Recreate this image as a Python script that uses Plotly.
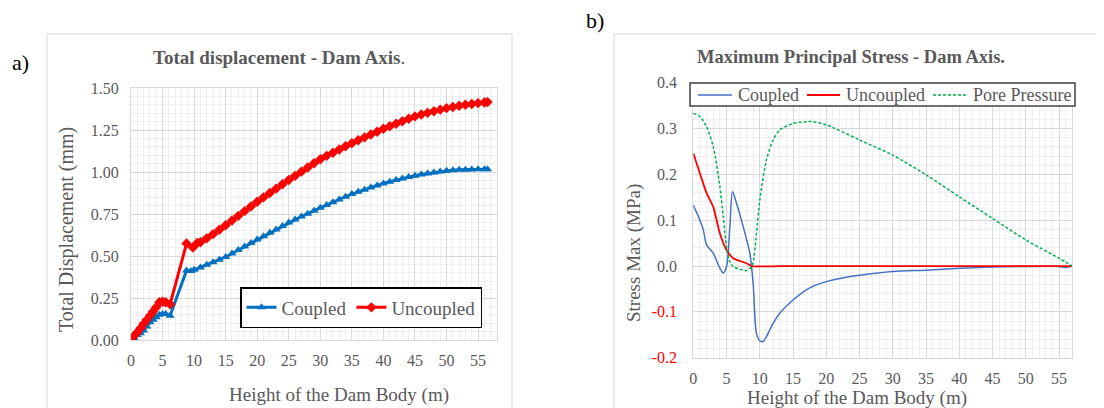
import plotly.graph_objects as go

# ---------------- Data: panel a) Total displacement ----------------
coupled_x = [0, 0.5, 1, 1.5, 2, 2.5, 3, 3.5, 4, 4.5, 5, 5.5, 6.2, 8.8, 9.5, 10, 11, 12, 13, 14, 15,
             16, 17, 18, 19, 20, 21, 22, 23, 24, 25, 26, 27, 28, 29, 30, 31, 32, 33, 34, 35,
             36, 37, 38, 39, 40, 41, 42, 43, 44, 45, 46, 47, 48, 49, 50, 51, 52, 53, 54, 55, 56, 56.5]
coupled_y = [0, 0.012, 0.03, 0.04, 0.056, 0.08, 0.105, 0.12, 0.135, 0.15, 0.155, 0.155, 0.145, 0.414, 0.41,
             0.418, 0.432, 0.448, 0.463, 0.478, 0.494, 0.515, 0.535, 0.556, 0.577, 0.598, 0.618, 0.638,
             0.658, 0.679, 0.699, 0.717, 0.735, 0.752, 0.770, 0.787, 0.804, 0.820, 0.837, 0.853, 0.869,
             0.882, 0.895, 0.908, 0.920, 0.932, 0.942, 0.952, 0.961, 0.970, 0.978, 0.985, 0.991, 0.997,
             1.003, 1.008, 1.011, 1.013, 1.014, 1.015, 1.016, 1.016, 1.016]

uncoupled_x = [0, 0.5, 1, 1.5, 2, 2.5, 3, 3.5, 4, 4.5, 5, 5.5, 6.2, 8.8, 9.8, 10.5, 11, 12, 13, 14, 15,
               16, 17, 18, 19, 20, 21, 22, 23, 24, 25, 26, 27, 28, 29, 30, 31, 32, 33, 34, 35,
               36, 37, 38, 39, 40, 41, 42, 43, 44, 45, 46, 47, 48, 49, 50, 51, 52, 53, 54, 55, 56, 56.5]
uncoupled_y = [0, 0.025, 0.046, 0.07, 0.096, 0.12, 0.145, 0.17, 0.195, 0.225, 0.228, 0.225, 0.213, 0.574,
               0.550, 0.578, 0.582, 0.605, 0.630, 0.656, 0.683, 0.711, 0.739, 0.767, 0.795, 0.823, 0.849,
               0.875, 0.901, 0.927, 0.952, 0.977, 1.002, 1.027, 1.052, 1.076, 1.096, 1.115, 1.134, 1.153,
               1.171, 1.189, 1.206, 1.223, 1.240, 1.257, 1.272, 1.287, 1.302, 1.317, 1.331, 1.342, 1.352,
               1.362, 1.371, 1.380, 1.387, 1.394, 1.400, 1.405, 1.410, 1.414, 1.416]

# ---------------- Data: panel b) Maximum principal stress ----------------
s_coupled_x = [0, 1, 1.5, 2, 3, 4, 4.5, 5, 5.5, 5.9, 6.5, 7.5, 8.5, 9, 9.5, 10, 10.5, 11, 12, 13, 15,
               17, 18, 20, 22, 25, 30, 35, 40, 45, 50, 55, 56, 57]
s_coupled_y = [0.133, 0.100, 0.079, 0.046, 0.028, -0.005, -0.015, -0.001, 0.086, 0.162, 0.137, 0.086,
               0.028, -0.038, -0.147, -0.163, -0.165, -0.154, -0.125, -0.103, -0.074, -0.052, -0.044,
               -0.034, -0.027, -0.020, -0.012, -0.009, -0.005, -0.002, -0.001, -0.001, -0.003, 0.0]

s_uncoupled_x = [0, 1, 2, 3, 4, 5, 6, 7, 8, 8.8, 15, 25, 35, 45, 57]
s_uncoupled_y = [0.246, 0.202, 0.159, 0.129, 0.071, 0.035, 0.017, 0.011, 0.006, 0.0, 0.0, 0.0, 0.0, 0.0, 0.0]

pore_x = [0, 1, 2, 3, 4, 4.5, 5, 5.5, 6, 7, 8, 8.8, 9.5, 10, 11, 12, 13, 15, 17, 18, 20, 25, 30,
          35, 40, 45, 50, 55, 57]
pore_y = [0.333, 0.326, 0.304, 0.260, 0.173, 0.108, 0.042, 0.009, -0.001, -0.007, -0.010, -0.001,
          0.071, 0.144, 0.231, 0.275, 0.297, 0.311, 0.315, 0.315, 0.308, 0.275, 0.242, 0.199, 0.151,
          0.104, 0.057, 0.017, 0.0]

a_yticks = [0, 0.25, 0.5, 0.75, 1.0, 1.25, 1.5]
b_yticks = [-0.2, -0.1, 0.0, 0.1, 0.2, 0.3, 0.4]
x_ticks = [0, 5, 10, 15, 20, 25, 30, 35, 40, 45, 50, 55]

W, H = 1104, 408
OFF = 8  # page body margin offset
FONT = "Liberation Serif"
GREY = "#595959"

def px(x):
    return (x - OFF) / W

def py(y):
    return 1 - (y - OFF) / H

fig = go.Figure()

fig.add_trace(go.Scatter(x=coupled_x, y=coupled_y, name="Coupled", mode="lines+markers",
                         line=dict(color="#0070C0", width=3),
                         marker=dict(symbol="triangle-up", size=8, color="#0070C0"),
                         xaxis="x", yaxis="y", legend="legend"))
fig.add_trace(go.Scatter(x=uncoupled_x, y=uncoupled_y, name="Uncoupled", mode="lines+markers",
                         line=dict(color="#FF0000", width=3),
                         marker=dict(symbol="diamond", size=8, color="#FF0000"),
                         xaxis="x", yaxis="y", legend="legend"))

b_colors = {"Coupled": "#4472C4", "Uncoupled": "#FF0000", "Pore Pressure": "#00B050"}
b_dash = {"Coupled": "solid", "Uncoupled": "solid", "Pore Pressure": "3px,2px"}
b_width = {"Coupled": 1.5, "Uncoupled": 1.8, "Pore Pressure": 1.5}

fig.add_trace(go.Scatter(x=s_coupled_x, y=s_coupled_y, name="Coupled", mode="lines",
                         line=dict(color=b_colors["Coupled"], width=b_width["Coupled"],
                                   shape="spline", smoothing=0.8),
                         xaxis="x2", yaxis="y2", showlegend=False))
fig.add_trace(go.Scatter(x=s_uncoupled_x, y=s_uncoupled_y, name="Uncoupled", mode="lines",
                         line=dict(color=b_colors["Uncoupled"], width=b_width["Uncoupled"],
                                   shape="spline", smoothing=0.6),
                         xaxis="x2", yaxis="y2", showlegend=False))
fig.add_trace(go.Scatter(x=pore_x, y=pore_y, name="Pore Pressure", mode="lines",
                         line=dict(color=b_colors["Pore Pressure"], width=b_width["Pore Pressure"],
                                   dash=b_dash["Pore Pressure"], shape="spline", smoothing=0.8),
                         xaxis="x2", yaxis="y2", showlegend=False))

grid_major = "#D9D9D9"
grid_minor = "#EFEFEF"
tickfont = dict(family=FONT, size=16, color=GREY)

b_ticktext = []
for v in b_yticks:
    t = f"{v:.1f}"
    if v < 0:
        t = f"<span style='color:#FF0000'>{t}</span>"
    b_ticktext.append(t)

common = dict(ticks="", showgrid=True, gridcolor=grid_major, gridwidth=1, zeroline=False,
              tickfont=tickfont, automargin=False, showline=True, linecolor=grid_major, mirror=True)

fig.update_layout(
    width=W, height=H, margin=dict(l=0, r=0, t=0, b=0, autoexpand=False),
    paper_bgcolor="white", plot_bgcolor="white",
    font=dict(family=FONT, color=GREY),
    xaxis=dict(domain=[px(131), px(497)], range=[0, 58], tickvals=x_ticks,
               minor=dict(dtick=1, showgrid=True, gridcolor=grid_minor, gridwidth=1),
               ticklabelstandoff=6, anchor="y", **common),
    yaxis=dict(domain=[py(340), py(88)], range=[0, 1.5], tickvals=a_yticks,
               ticktext=[f"{v:.2f}" for v in a_yticks],
               minor=dict(dtick=0.05, showgrid=True, gridcolor=grid_minor, gridwidth=1),
               ticklabelstandoff=8, anchor="x", **common),
    xaxis2=dict(domain=[px(693.3), px(1072.3)], range=[0, 57], tickvals=x_ticks,
                minor=dict(dtick=1, showgrid=True, gridcolor=grid_minor, gridwidth=1),
                ticklabelstandoff=6, anchor="y2", **common),
    yaxis2=dict(domain=[py(357.7), py(82.7)], range=[-0.2, 0.4], tickvals=b_yticks,
                ticktext=b_ticktext,
                minor=dict(dtick=0.02, showgrid=True, gridcolor=grid_minor, gridwidth=1),
                ticklabelstandoff=12, anchor="x2", **common),
    legend=dict(x=px(240), y=py(287), xanchor="left", yanchor="top", orientation="h",
                bgcolor="white", bordercolor="black", borderwidth=1.5,
                font=dict(family=FONT, size=19, color=GREY), itemwidth=30,
                tracegroupgap=0),
    showlegend=True,
)

# chart frames
fig.add_shape(type="rect", xref="paper", yref="paper", x0=px(47), x1=px(1130), y0=-0.05, y1=py(34),
              line=dict(color="white", width=0), layer="below")
fig.add_shape(type="rect", xref="paper", yref="paper", x0=px(47), x1=px(512), y0=-0.05, y1=py(34),
              line=dict(color="#D9D9D9", width=1), layer="below")
fig.add_shape(type="rect", xref="paper", yref="paper", x0=px(614), x1=1.05, y0=-0.05, y1=py(34),
              line=dict(color="#D9D9D9", width=1), layer="below")

# legend for panel b (compact box like the reference)
fig.add_shape(type="rect", xref="paper", yref="paper", x0=px(690), x1=px(1075), y0=py(106), y1=py(83),
              line=dict(color="#404040", width=1.5), fillcolor="white", layer="above")
b_legend = [("Coupled", 698, 732, 736), ("Uncoupled", 807, 840, 844), ("Pore Pressure", 933, 967, 971)]
for name, lx0, lx1, tx in b_legend:
    fig.add_shape(type="line", xref="paper", yref="paper", x0=px(lx0), x1=px(lx1), y0=py(95), y1=py(95),
                  line=dict(color=b_colors[name], width=b_width[name], dash=b_dash[name]), layer="above")
    fig.add_annotation(text=name, x=px(tx), y=py(95), xref="paper", yref="paper",
                       xanchor="left", yanchor="middle", showarrow=False,
                       font=dict(family=FONT, size=18, color=GREY))

ann = [
    dict(text="<b>Total displacement - Dam Axis</b>.", x=px(279), y=py(57), size=19, color=GREY),
    dict(text="<b>Maximum Principal Stress - Dam Axis.</b>", x=px(851), y=py(57), size=18.5, color=GREY),
    dict(text="Height of the Dam Body (m)", x=px(339), y=py(395), size=19, color=GREY),
    dict(text="Height of the Dam Body (m)", x=px(857), y=py(398), size=19, color=GREY),
    dict(text="a)", x=px(20), y=py(63), size=22, color="black"),
    dict(text="b)", x=px(595), y=py(20), size=22, color="black"),
]
for a in ann:
    fig.add_annotation(text=a["text"], x=a["x"], y=a["y"], xref="paper", yref="paper",
                       xanchor="center", yanchor="middle", showarrow=False,
                       font=dict(family=FONT, size=a["size"], color=a["color"]))

fig.add_annotation(text="Total Displacement (mm)", x=px(67), y=py(230), xref="paper", yref="paper",
                   textangle=-90, showarrow=False, xanchor="center", yanchor="middle",
                   font=dict(family=FONT, size=20, color=GREY))
fig.add_annotation(text="Stress Max (MPa)", x=px(634), y=py(253), xref="paper", yref="paper",
                   textangle=-90, showarrow=False, xanchor="center", yanchor="middle",
                   font=dict(family=FONT, size=19, color=GREY))

fig.write_html("out.html")
